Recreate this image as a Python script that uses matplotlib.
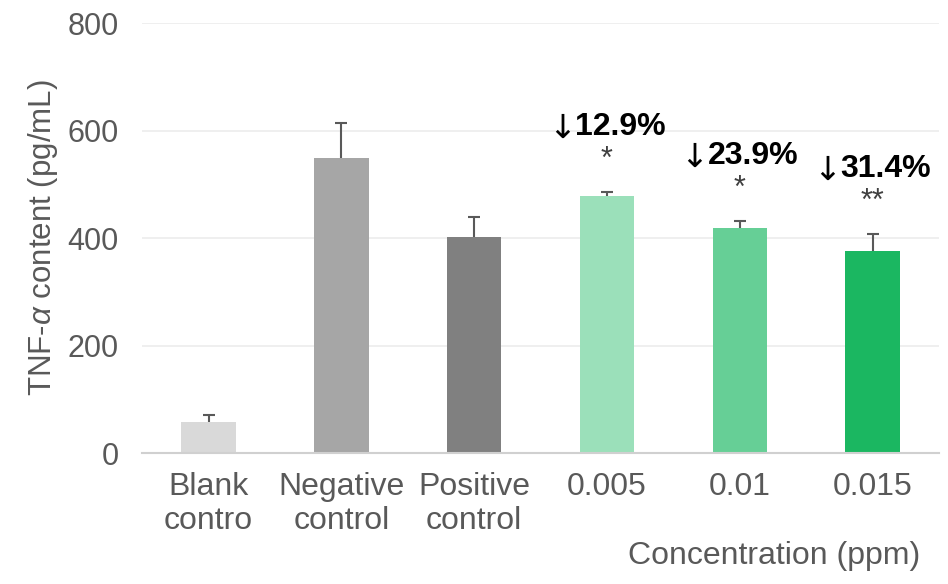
import numpy as np
import matplotlib
matplotlib.use("Agg")
import matplotlib.pyplot as plt

# TNF-alpha content per group (pg/mL) and standard deviations
groups = ["Blank\ncontro", "Negative\ncontrol", "Positive\ncontrol", "0.005", "0.01", "0.015"]
tnf = [57, 549, 402, 478, 418, 376]
sd = [13, 65, 37, 8, 14, 32]
colors = ["#d9d9d9", "#a6a6a6", "#808080", "#9be0ba", "#66cf96", "#1bb761"]

# reduction vs negative control and significance marks for the treated groups
drops = ["", "", "", "12.9%", "23.9%", "31.4%"]
stars = ["", "", "", "*", "*", "**"]

plt.rcParams["font.family"] = ["Liberation Sans", "DejaVu Sans"]
plt.rcParams["mathtext.fontset"] = "custom"
plt.rcParams["mathtext.rm"] = "Liberation Sans"
plt.rcParams["mathtext.it"] = "Liberation Sans:italic"

fig = plt.figure(figsize=(9.48, 5.84), dpi=100)
ax = fig.add_axes([0.15, 0.2243, 0.8405, 0.7363])

x = np.arange(len(groups))
ax.bar(x, tnf, width=0.41, color=colors, zorder=2)
eb = ax.errorbar(x, tnf, yerr=[np.zeros(len(sd)), sd], fmt="none", ecolor="#595959",
                 elinewidth=1.5, capsize=4, capthick=1.5, zorder=3)
eb[1][0].set_visible(False)   # only the upper cap

for i in range(len(groups)):
    top = tnf[i] + sd[i]
    if stars[i]:
        ax.text(x[i], top + 60, stars[i], ha="center", va="center",
                fontsize=22, color="#404040")
    if drops[i]:
        ax.annotate(drops[i], (x[i], top + 120), xytext=(-23, 0),
                    textcoords="offset points", ha="left", va="center",
                    fontsize=23, fontweight="bold", color="black")
        ax.annotate("\u2193", (x[i], top + 118), xytext=(-22.5, 0),
                    textcoords="offset points", ha="right", va="center",
                    fontsize=24, color="black", family="DejaVu Sans")

ax.set_xlim(-0.5, len(groups) - 0.5)
ax.set_ylim(0, 800)
ax.set_yticks([0, 200, 400, 600, 800])
ax.set_xticks(x)
ax.set_xticklabels(groups, fontsize=23, color="#595959", linespacing=1.15)
ax.tick_params(axis="y", labelsize=22, labelcolor="#595959", length=0, pad=17)
ax.tick_params(axis="x", length=0, pad=14)

ax.yaxis.grid(True, color="#ececec", linewidth=1.2, zorder=0)
ax.set_axisbelow(True)
for s in ["top", "right", "left"]:
    ax.spines[s].set_visible(False)
ax.spines["bottom"].set_color("#d0d0d0")
ax.spines["bottom"].set_linewidth(1.5)

ax.set_ylabel(r"TNF-$\mathit{\alpha}$ content (pg/mL)", fontsize=22.5, color="#595959", labelpad=5)
fig.text(0.971, 0.048, "Concentration (ppm)", ha="right", va="center",
         fontsize=23, color="#595959")

fig.savefig("out.png", dpi=100)
